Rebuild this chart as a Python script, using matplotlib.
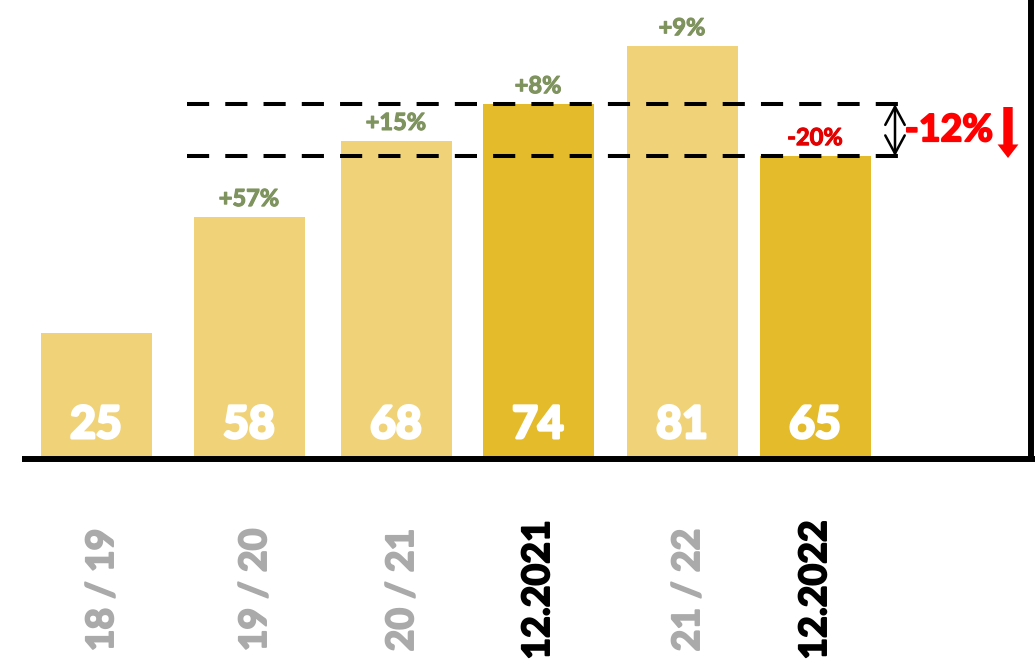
import matplotlib
matplotlib.use('Agg')
from matplotlib import pyplot as plt
import matplotlib.patheffects as pe

plt.rcParams['font.family'] = ['Lato', 'DejaVu Sans']

# data
labels = ['18 / 19', '19 / 20', '20 / 21', '12.2021', '21 / 22', '12.2022']
values = [25, 58, 68, 74, 81, 65]
bar_heights = [25.0, 48.0, 63.1, 70.4, 81.9, 60.1]   # drawn heights
changes = ['', '+57%', '+15%', '+8%', '+9%', '-20%']
highlight = [False, False, False, True, False, True]
total_change = '-12%'

# layout (x in pixel units of the figure)
xpos = [96, 249, 396, 538, 682, 815]
px_per_unit = 5.04
base_px = 202  # baseline height from the bottom of the image

light, dark = '#F0D378', '#E3BB2B'
green, red, grey = '#7E935E', '#E30000', '#AAAAAA'

def ypx(y):
    # pixel row (from top) -> data value
    return (661 - y) / px_per_unit - base_px / px_per_unit

def fat(col, w=1.6):
    # thicken the glyphs a little, the original font is heavier than Lato bold
    return [pe.withStroke(linewidth=w, foreground=col)]

fig = plt.figure(figsize=(10.35, 6.61), dpi=100)
ax = fig.add_axes([0, 0, 1, 1])
ax.set_xlim(0, 1035)
ax.set_ylim(-base_px / px_per_unit, (661 - base_px) / px_per_unit)
ax.axis('off')

cols = [dark if h else light for h in highlight]
ax.bar(xpos, bar_heights, width=111, color=cols, zorder=1)

for x, h, v, c, hl in zip(xpos, bar_heights, values, changes, highlight):
    ax.text(x, ypx(425), str(v), color='white', fontsize=32, fontweight='bold',
            ha='center', va='center', zorder=3, path_effects=fat('white', 2.2))
    if c:
        cc = red if c.startswith('-') else green
        ax.text(x, h + 18.5 / px_per_unit, c, color=cc,
                fontsize=17, fontweight='bold', ha='center', va='center', zorder=3,
                path_effects=fat(cc, 0.8))

for x, lab, hl in zip(xpos, labels, highlight):
    cc = 'black' if hl else grey
    ax.text(x if hl else x + 6, ypx(590), lab, rotation=90, ha='center', va='center',
            fontsize=27, fontweight='bold', color=cc, path_effects=fat(cc, 1.4))

# reference lines between 12.2021 and 12.2022
y_hi, y_lo = bar_heights[3], bar_heights[5]
for yy in (y_hi, y_lo):
    ax.plot([187, 903], [yy, yy], color='black', lw=2.9, dashes=(5.5, 4), zorder=2,
            solid_capstyle='butt', dash_capstyle='butt')

ax.annotate('', xy=(895, y_lo), xytext=(895, y_hi),
            arrowprops=dict(arrowstyle='<->,head_length=1.3,head_width=0.7',
                            color='black', lw=1.8, shrinkA=0, shrinkB=0))
ax.text(949, (y_hi + y_lo) / 2, total_change, color='#FF0000', fontsize=27,
        fontweight='bold', ha='center', va='center', path_effects=fat('#FF0000', 1.4))
ax.annotate('', xy=(1008, ypx(158)), xytext=(1008, ypx(107)),
            arrowprops=dict(arrowstyle='simple,head_length=0.65,head_width=1.0,tail_width=0.45',
                            color='#FF0000', lw=0, shrinkA=0, shrinkB=0, mutation_scale=15))

# axis lines
ax.plot([22, 1035], [0, 0], color='black', lw=4.3, solid_capstyle='butt', zorder=4)
ax.plot([1031, 1031], [0, ypx(0)], color='black', lw=4.3, solid_capstyle='butt', zorder=4)

fig.savefig('out.png', dpi=100)
plt.close(fig)
